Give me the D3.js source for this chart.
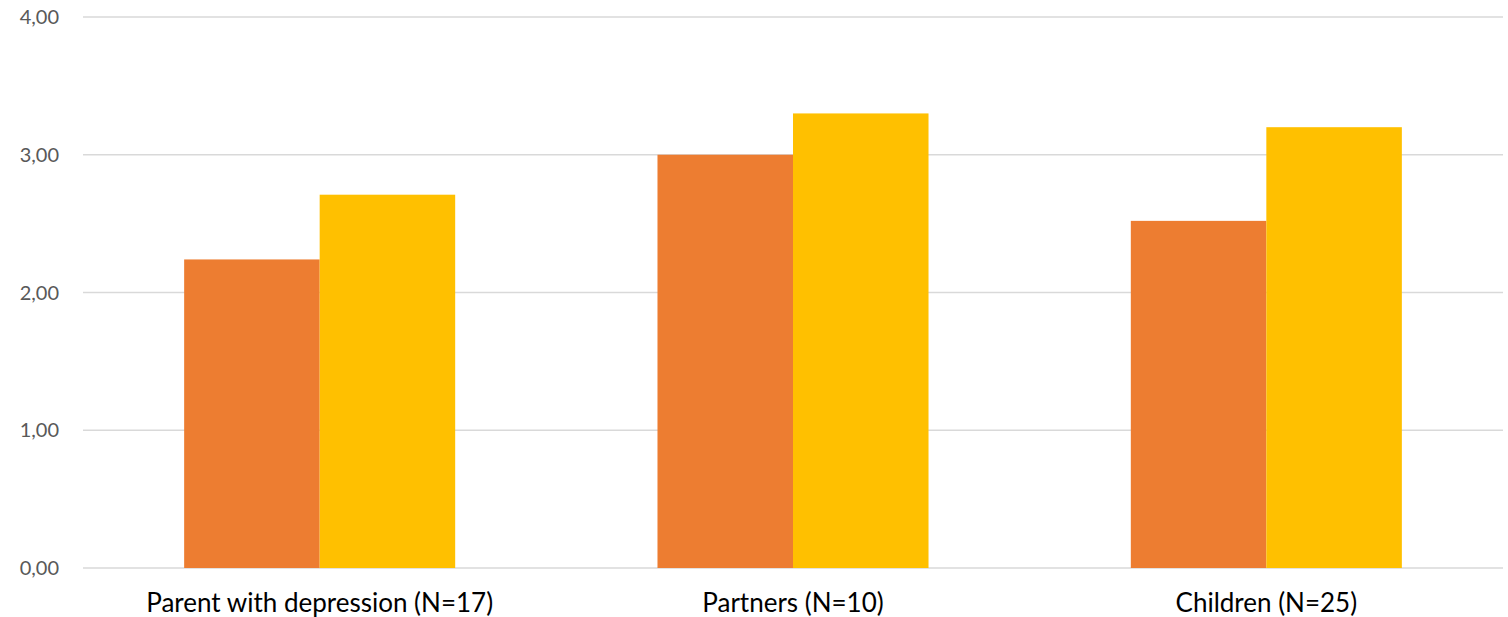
<!DOCTYPE html>
<html>
<head>
<meta charset="utf-8">
<script src="https://cdn.jsdelivr.net/npm/d3@7"></script>
<style>
  html, body { margin: 0; padding: 0; background: #fff; }
  svg { display: block; }
</style>
</head>
<body>
<svg id="chart" width="1508" height="617"></svg>
<script>
// Groups and their two mean scores
const categories = ["Parent with depression (N=17)", "Partners (N=10)", "Children (N=25)"];
const seriesNames = ["Before", "After"];
const seriesA = [2.24, 3.00, 2.52];
const seriesB = [2.71, 3.30, 3.20];
const yTicks = [0, 1, 2, 3, 4];
const colors = ["#ED7D31", "#FFC000"];

const svg = d3.select("#chart");
const W = 1508, H = 617;
const margin = { left: 83, right: 5, top: 17, bottom: 49 };
const plotW = W - margin.left - margin.right;
const plotH = H - margin.top - margin.bottom;

const g = svg.append("g").attr("transform", `translate(${margin.left},${margin.top})`);

const y = d3.scaleLinear().domain([0, 4]).range([plotH, 0]);
const x0 = d3.scaleBand().domain(categories).range([0, plotW]).paddingInner(0.4274).paddingOuter(0.2137);
const x1 = d3.scaleBand().domain(seriesNames).range([0, x0.bandwidth()]).padding(0);

// horizontal gridlines
g.selectAll("line.grid").data(yTicks).join("line")
  .attr("class", "grid")
  .attr("x1", 0).attr("x2", plotW)
  .attr("y1", d => y(d)).attr("y2", d => y(d))
  .attr("stroke", "#d9d9d9").attr("stroke-width", 1.5);

// y-axis labels
const fmt = d => d3.format(".2f")(d).replace(".", ",");
g.selectAll("text.ytick").data(yTicks).join("text")
  .attr("class", "ytick")
  .attr("x", -24).attr("y", d => y(d))
  .attr("dy", "0.35em")
  .attr("text-anchor", "end")
  .attr("font-family", "Lato, 'Liberation Sans', sans-serif")
  .attr("font-size", 20)
  .attr("fill", "#595959")
  .text(fmt);

// bars
const rows = categories.map((c, i) => ({ cat: c, vals: [seriesA[i], seriesB[i]] }));
const groups = g.selectAll("g.grp").data(rows).join("g")
  .attr("class", "grp")
  .attr("transform", d => `translate(${x0(d.cat)},0)`);
groups.selectAll("rect").data(d => d.vals.map((v, j) => ({ s: seriesNames[j], v, j })))
  .join("rect")
  .attr("x", d => x1(d.s))
  .attr("width", x1.bandwidth())
  .attr("y", d => y(d.v))
  .attr("height", d => y(0) - y(d.v))
  .attr("fill", d => colors[d.j]);

// category labels
g.selectAll("text.cat").data(categories).join("text")
  .attr("class", "cat")
  .attr("x", d => x0(d) + x0.bandwidth() / 2)
  .attr("y", plotH + 44)
  .attr("text-anchor", "middle")
  .attr("font-family", "Lato, 'Liberation Sans', sans-serif")
  .attr("font-size", 26)
  .attr("fill", "#000")
  .text(d => d);
</script>
</body>
</html>
